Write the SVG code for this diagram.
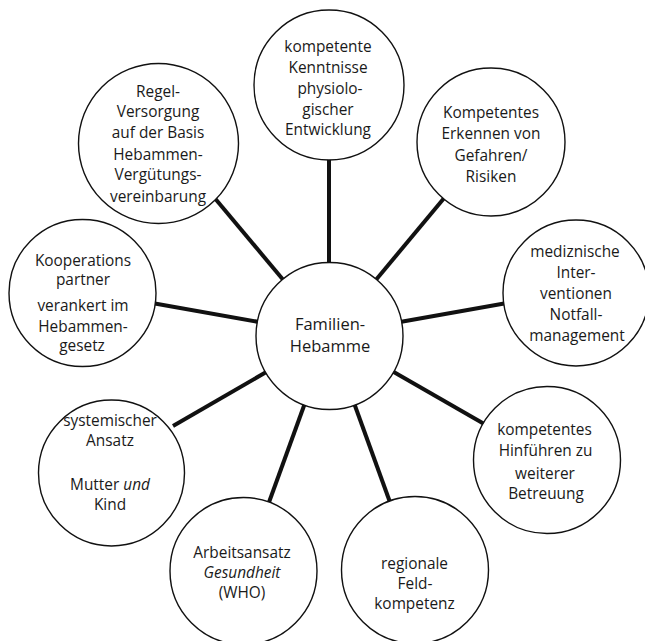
<svg xmlns="http://www.w3.org/2000/svg" width="645" height="641" viewBox="0 0 645 641">
<style>
.n{fill:#fff;stroke:#111;stroke-width:1.4}
.t{font-family:"Open Sans","Noto Sans",sans-serif;font-size:15.4px;fill:#1a1a1a;text-anchor:middle}
.c{font-size:16.5px}
.e{stroke:#111;stroke-width:4;stroke-linecap:butt;fill:none}
</style>
<rect width="645" height="641" fill="#fff"/>
<g id="connectors">
<line class="e" x1="329" y1="155" x2="329" y2="266"/>
<line class="e" x1="213" y1="196" x2="285" y2="282"/>
<line class="e" x1="445" y1="197" x2="375" y2="281"/>
<line class="e" x1="507" y1="303" x2="400" y2="322"/>
<line class="e" x1="486" y1="425" x2="392" y2="371"/>
<line class="e" x1="391" y1="505" x2="354" y2="403"/>
<line class="e" x1="268" y1="505" x2="305" y2="403"/>
<line class="e" x1="173" y1="426" x2="268" y2="371"/>
<line class="e" x1="152" y1="303" x2="259" y2="322"/>
</g>
<g id="center">
<circle class="n" cx="329.5" cy="336" r="73.5"/>
<text class="t c" x="330" y="329.5">Familien-</text>
<text class="t c" x="330" y="352">Hebamme</text>
</g>
<g id="n-top">
<circle class="n" cx="329" cy="85" r="75"/>
<text class="t" x="328" y="52">kompetente</text>
<text class="t" x="328" y="73">Kenntnisse</text>
<text class="t" x="330" y="94">physiolo-</text>
<text class="t" x="328" y="114.5">gischer</text>
<text class="t" x="328" y="135">Entwicklung</text>
</g>
<g id="n-risiken">
<circle class="n" cx="491" cy="142" r="74"/>
<text class="t" x="491" y="118">Kompetentes</text>
<text class="t" x="491" y="139">Erkennen von</text>
<text class="t" x="491" y="161">Gefahren/</text>
<text class="t" x="491" y="182">Risiken</text>
</g>
<g id="n-notfall">
<circle class="n" cx="576" cy="293" r="73"/>
<text class="t" x="575" y="257">mediznische</text>
<text class="t" x="576" y="278">Inter-</text>
<text class="t" x="576" y="298.5">ventionen</text>
<text class="t" x="576" y="320">Notfall-</text>
<text class="t" x="577" y="340.5">management</text>
</g>
<g id="n-betreuung">
<circle class="n" cx="547" cy="460" r="73.5"/>
<text class="t" x="544.5" y="435">kompetentes</text>
<text class="t" x="545.5" y="455.5">Hinführen zu</text>
<text class="t" x="545" y="479">weiterer</text>
<text class="t" x="546" y="498.5">Betreuung</text>
</g>
<g id="n-feld">
<circle class="n" cx="415" cy="570" r="73.5"/>
<text class="t" x="414.5" y="568.5">regionale</text>
<text class="t" x="415" y="589">Feld-</text>
<text class="t" x="414.5" y="609">kompetenz</text>
</g>
<g id="n-who">
<circle class="n" cx="243.5" cy="571" r="73.5"/>
<text class="t" x="242" y="557.5">Arbeitsansatz</text>
<text class="t" x="242" y="577.5" font-style="italic">Gesundheit</text>
<text class="t" x="242" y="598">(WHO)</text>
</g>
<g id="n-system">
<circle class="n" cx="111.5" cy="473" r="73"/>
<text class="t" x="110" y="426">systemischer</text>
<text class="t" x="110" y="446">Ansatz</text>
<text class="t" x="110" y="490">Mutter <tspan font-style="italic">und</tspan></text>
<text class="t" x="110" y="509.5">Kind</text>
</g>
<g id="n-koop">
<circle class="n" cx="82.5" cy="293" r="73.5"/>
<text class="t" x="83" y="266">Kooperations</text>
<text class="t" x="83" y="285">partner</text>
<text class="t" x="83" y="311">verankert im</text>
<text class="t" x="83" y="332">Hebammen-</text>
<text class="t" x="82" y="351">gesetz</text>
</g>
<g id="n-regel">
<circle class="n" cx="158.5" cy="143.5" r="80"/>
<text class="t" x="158" y="97">Regel-</text>
<text class="t" x="158" y="117">Versorgung</text>
<text class="t" x="158" y="138">auf der Basis</text>
<text class="t" x="158" y="160">Hebammen-</text>
<text class="t" x="158" y="180">Vergütungs-</text>
<text class="t" x="158" y="201.5">vereinbarung</text>
</g>
</svg>
